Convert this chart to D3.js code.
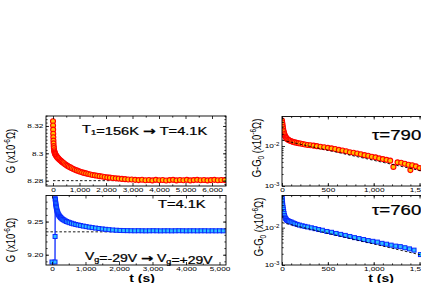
<!DOCTYPE html>
<html>
<head>
<meta charset="utf-8">
<script src="https://cdn.jsdelivr.net/npm/d3@7"></script>
<style>
  body { margin: 0; background: #fff; }
  svg { display: block; }
</style>
</head>
<body>
<svg id="chart" width="421" height="283"></svg>
<script>
// ---- data ----
const topLeftT = [0,3,6,9,12,16,20,26,33,42,52,63,75,90,108,128,150,175,200,230,260,295,330,370,410,455,500,550,600,655,710,770,830,895,960,1030,1100,1175,1250,1330,1410,1495,1580,1670,1760,1855,1950,2050,2150,2260,2370,2480,2600,2720,2840,2970,3100,3230,3360,3490,3620,3750,3880,4010,4140,4270,4400,4530,4660,4790,4920,5050,5180,5310,5440,5570,5700,5830,5960,6090,6220,6350,6480];
const topLeftG = [8.3235,8.3203,8.3173,8.3143,8.3118,8.3093,8.3073,8.3053,8.3038,8.3023,8.3013,8.3005,8.2998,8.2992,8.2986,8.298,8.2974,8.2968,8.2963,8.2957,8.2951,8.2945,8.2939,8.2933,8.2927,8.292,8.2914,8.2908,8.2902,8.2897,8.2891,8.2885,8.288,8.2875,8.287,8.2865,8.2861,8.2857,8.2853,8.2849,8.2845,8.2842,8.2839,8.2836,8.2833,8.283,8.2827,8.2824,8.2822,8.2819,8.2817,8.2815,8.2813,8.2811,8.2809,8.2808,8.2806,8.2804,8.2807,8.2803,8.2805,8.2802,8.2806,8.2803,8.2805,8.2801,8.2804,8.2806,8.2802,8.2805,8.2803,8.2806,8.2802,8.2804,8.2806,8.2803,8.2805,8.2802,8.2804,8.2806,8.2803,8.2805,8.2804];

const bottomLeftT = [0,90,92,96,100,104,108,113,118,124,131,139,148,158,170,183,198,215,234,255,278,303,330,360,395,435,480,530,585,645,710,780,855,935,1020,1110,1200,1300,1400,1500,1600,1700,1810,1920,2030,2140,2250,2360,2470,2580,2690,2800,2910,3020,3130,3240,3350,3460,3570,3680,3790,3900,4010,4120,4230,4340,4450,4560,4670,4780,4890,5000,5110];
const bottomLeftG = [9.189,9.189,9.2275,9.2845,9.283,9.281,9.279,9.277,9.275,9.273,9.271,9.269,9.267,9.265,9.2632,9.2616,9.2602,9.2588,9.2575,9.2563,9.2552,9.2541,9.2531,9.2521,9.2511,9.2501,9.2492,9.2483,9.2474,9.2465,9.2456,9.2448,9.244,9.2432,9.2424,9.2416,9.2409,9.2402,9.2395,9.2389,9.2383,9.2378,9.2373,9.2369,9.2366,9.2364,9.2363,9.2362,9.2361,9.2362,9.2361,9.236,9.2361,9.2362,9.2361,9.236,9.2361,9.2361,9.236,9.2361,9.2362,9.2361,9.236,9.2361,9.2361,9.236,9.2361,9.2361,9.236,9.2361,9.236,9.2361,9.236];

const topRightT = [0,3,6,9,12,16,20,25,30,36,43,50,60,70,82,95,110,125,140,160,180,200,225,250,280,310,345,380,420,460,500,540,580,620,660,700,740,780,820,860,900,940,980,1020,1060,1100,1140,1180,1215,1260,1300,1340,1380,1400,1420,1460,1500,1540,1580,1620];
const topRightDG = [0.043,0.038,0.034,0.030,0.027,0.024,0.022,0.020,0.0185,0.0172,0.0162,0.0155,0.0148,0.0142,0.0137,0.0133,0.0129,0.0126,0.0123,0.0120,0.0117,0.0115,0.0112,0.0109,0.0106,0.0104,0.0102,0.0099,0.0096,0.0093,0.0090,0.0087,0.0084,0.0080,0.0077,0.0074,0.0070,0.0068,0.0065,0.0062,0.0059,0.0057,0.0054,0.0052,0.0049,0.0047,0.0045,0.0043,0.0030,0.0039,0.0038,0.0036,0.0034,0.0025,0.0033,0.0031,0.0028,0.0027,0.0025,0.0024];

const bottomRightT = [0,2,4,6,8,11,14,18,22,27,33,40,48,58,70,85,100,120,140,165,190,220,250,280,320,360,400,440,490,540,590,640,690,740,790,840,890,940,990,1040,1090,1140,1190,1240,1290,1340,1390,1440,1510];
const bottomRightDG = [0.068,0.060,0.052,0.045,0.040,0.035,0.031,0.027,0.024,0.021,0.019,0.0175,0.0163,0.0155,0.0150,0.0145,0.0141,0.0134,0.0128,0.0122,0.0117,0.0112,0.0108,0.0104,0.0099,0.0094,0.0089,0.0085,0.0079,0.0075,0.0070,0.0066,0.0062,0.0058,0.0054,0.0051,0.0048,0.0045,0.0043,0.0041,0.0038,0.0036,0.0034,0.0032,0.0031,0.0029,0.0027,0.0025,0.0019];

// fits (dashed)
const topLeftFitT = [0, 6530];
const topLeftFitG = [8.2800, 8.2800];
const bottomLeftFitT = [-180, 5195];
const bottomLeftFitG = [9.2345, 9.2345];
const topRightFitT = [0, 1720];
const topRightFitDG = [0.0140, 0.0019];
const bottomRightFitT = [0, 1720];
const bottomRightFitDG = [0.0136, 0.00142];

// tick labels
const topLeftXTicks = [0, 1000, 2000, 3000, 4000, 5000, 6000];
const topLeftYTicks = [8.28, 8.30, 8.32];
const bottomLeftXTicks = [0, 1000, 2000, 3000, 4000, 5000];
const bottomLeftYTicks = [9.20, 9.25];
const rightXTicks = [0, 500, 1000, 1500];
const rightYTicks = [0.001, 0.01];

const svg = d3.select("#chart");
const sansFont = "'Liberation Sans', Arial, Helvetica, sans-serif";
const SX = 1.33; // the figure is stretched sideways

const red = "#ff0000", redFill = "#ffc000";
const blue = "#0a28ff", blueFill = "#2cc0ff";

function styleTicks(sel) {
  sel.select(".domain").remove();
  sel.selectAll(".tick line").attr("stroke", "#000").attr("stroke-width", 0.8);
  sel.selectAll(".tick text")
    .attr("font-family", sansFont)
    .attr("font-size", 6.2)
    .attr("fill", "#000")
    .attr("transform", `scale(${SX},1)`);
}

function drawPanel(p) {
  const g = svg.append("g");
  const x = d3.scaleLinear().domain(p.xDomain).range([p.left, p.right]);
  const y = (p.log ? d3.scaleLog() : d3.scaleLinear()).domain(p.yDomain).range([p.bottom, p.top]);

  const clipId = "clip" + p.id;
  svg.append("clipPath").attr("id", clipId)
    .append("rect")
    .attr("x", p.left).attr("y", p.top)
    .attr("width", p.right - p.left).attr("height", p.bottom - p.top);

  const plot = g.append("g").attr("clip-path", `url(#${clipId})`);

  const fit = d3.line().x(d => x(d[0])).y(d => y(d[1]));
  const fitPts = p.fitT.map((t, i) => [t, p.fitV[i]]);
  const pts = p.t.map((t, i) => [t, p.v[i]]);

  const drawFit = () => plot.append("path")
    .datum(fitPts)
    .attr("d", fit)
    .attr("fill", "none")
    .attr("stroke", "#000")
    .attr("stroke-width", 0.9)
    .attr("stroke-dasharray", "2.5,2");

  if (!p.fitOnTop) drawFit();

  if (p.line) {
    plot.append("path")
      .datum(pts)
      .attr("d", fit)
      .attr("fill", "none")
      .attr("stroke", p.color)
      .attr("stroke-width", 1.3);
  }

  if (p.marker === "circle") {
    plot.selectAll("circle.pt")
      .data(pts)
      .enter()
      .append("circle")
      .attr("class", "pt")
      .attr("cx", d => x(d[0]))
      .attr("cy", d => y(d[1]))
      .attr("r", 2.5)
      .attr("fill", redFill)
      .attr("stroke", red)
      .attr("stroke-width", 1.1);
  } else {
    plot.selectAll("rect.pt")
      .data(pts)
      .enter()
      .append("rect")
      .attr("class", "pt")
      .attr("x", d => x(d[0]) - 2)
      .attr("y", d => y(d[1]) - 2)
      .attr("width", 4)
      .attr("height", 4)
      .attr("fill", blueFill)
      .attr("stroke", blue)
      .attr("stroke-width", 1);
  }

  if (p.fitOnTop) drawFit();

  // axes: ticks point inward, mirrored on top and right
  const tl = 3, tm = 1.6;
  g.append("g").attr("transform", `translate(0,${p.bottom})`)
    .call(d3.axisBottom(x).tickValues(p.xMinor).tickSize(-tm).tickFormat(""))
    .call(styleTicks);
  g.append("g").attr("transform", `translate(0,${p.bottom})`)
    .call(d3.axisBottom(x).tickValues(p.xTicks).tickSize(-tl).tickPadding(1.5).tickFormat(d3.format(",")))
    .call(styleTicks);
  g.append("g").attr("transform", `translate(0,${p.top})`)
    .call(d3.axisTop(x).tickValues(p.xMinor).tickSize(-tm).tickFormat(""))
    .call(styleTicks);
  g.append("g").attr("transform", `translate(0,${p.top})`)
    .call(d3.axisTop(x).tickValues(p.xTicks).tickSize(-tl).tickFormat(""))
    .call(styleTicks);

  g.append("g").attr("transform", `translate(${p.left},0)`)
    .call(d3.axisLeft(y).tickValues(p.yMinor).tickSize(-tm).tickFormat(""))
    .call(styleTicks);
  const yAx = g.append("g").attr("transform", `translate(${p.left},0)`)
    .call(d3.axisLeft(y).tickValues(p.yTicks).tickSize(-tl).tickPadding(2)
      .tickFormat(p.log ? () => "10" : p.yFormat))
    .call(styleTicks);
  if (p.log) {
    yAx.selectAll(".tick text")
      .append("tspan")
      .attr("dy", -2.6)
      .attr("font-size", 4.6)
      .text(d => "-" + Math.abs(Math.round(Math.log10(d))));
  }
  g.append("g").attr("transform", `translate(${p.right},0)`)
    .call(d3.axisRight(y).tickValues(p.yMinor).tickSize(-tm).tickFormat(""))
    .call(styleTicks);
  g.append("g").attr("transform", `translate(${p.right},0)`)
    .call(d3.axisRight(y).tickValues(p.yTicks).tickSize(-tl).tickFormat(""))
    .call(styleTicks);

  g.append("rect")
    .attr("x", p.left).attr("y", p.top)
    .attr("width", p.right - p.left).attr("height", p.bottom - p.top)
    .attr("fill", "none")
    .attr("stroke", "#000")
    .attr("stroke-width", 0.9);

  // y title, rotated
  const yt = svg.append("text")
    .attr("transform", `translate(${p.titleX},${p.titleY}) scale(${SX},1) rotate(-90)`)
    .attr("text-anchor", "middle")
    .attr("font-family", sansFont)
    .attr("font-size", 9.5)
    .attr("fill", "#000");
  if (p.diff) {
    yt.append("tspan").text("G-G");
    yt.append("tspan").attr("dy", 2).attr("font-size", 6.5).text("0");
    yt.append("tspan").attr("dy", -2).text(" (x10");
  } else {
    yt.append("tspan").text("G (x10");
  }
  yt.append("tspan").attr("dy", -3.5).attr("font-size", 6.5).text("-6");
  yt.append("tspan").attr("dy", 3.5).text("Ω)");
}

function logMinor(domain) {
  const out = [];
  for (let e = -4; e <= 0; e++) {
    for (let m = 2; m <= 9; m++) {
      const v = m * Math.pow(10, e);
      if (v > domain[0] && v < domain[1]) out.push(v);
    }
  }
  return out;
}

const fmt2 = d => (+d.toFixed(2)).toString();

drawPanel({
  id: "tl", left: 46, right: 226, top: 116, bottom: 186,
  xDomain: [-264, 6528], yDomain: [8.2761, 8.3273],
  t: topLeftT, v: topLeftG, fitT: topLeftFitT, fitV: topLeftFitG,
  marker: "circle", color: red, line: true, fitOnTop: false,
  xTicks: topLeftXTicks, xMinor: d3.range(500, 6501, 1000),
  yTicks: topLeftYTicks, yMinor: d3.range(8.2775, 8.3275, 0.0025), yFormat: fmt2,
  titleX: 15, titleY: 151
});

drawPanel({
  id: "bl", left: 46, right: 226, top: 195.5, bottom: 265,
  xDomain: [-179, 5194], yDomain: [9.1845, 9.2893],
  t: bottomLeftT, v: bottomLeftG, fitT: bottomLeftFitT, fitV: bottomLeftFitG,
  marker: "square", color: blue, line: true, fitOnTop: false,
  xTicks: bottomLeftXTicks, xMinor: d3.range(500, 5001, 1000),
  yTicks: bottomLeftYTicks, yMinor: d3.range(9.19, 9.29, 0.01),
  yFormat: d => d.toFixed(2),
  titleX: 15, titleY: 240
});

const trDomain = [0.001, Math.pow(10, -1.2625)];
drawPanel({
  id: "tr", left: 282, right: 440, top: 116.5, bottom: 186,
  xDomain: [0, 1723], yDomain: trDomain, log: true, diff: true,
  t: topRightT, v: topRightDG, fitT: topRightFitT, fitV: topRightFitDG,
  marker: "circle", color: red, line: false, fitOnTop: true,
  xTicks: rightXTicks, xMinor: d3.range(100, 1701, 100),
  yTicks: rightYTicks, yMinor: logMinor(trDomain),
  titleX: 261, titleY: 148
});

const brDomain = [0.001, Math.pow(10, -1.14)];
drawPanel({
  id: "br", left: 282, right: 440, top: 195.5, bottom: 265,
  xDomain: [0, 1723], yDomain: brDomain, log: true, diff: true,
  t: bottomRightT, v: bottomRightDG, fitT: bottomRightFitT, fitV: bottomRightFitDG,
  marker: "square", color: blue, line: false, fitOnTop: true,
  xTicks: rightXTicks, xMinor: d3.range(100, 1701, 100),
  yTicks: rightYTicks, yMinor: logMinor(brDomain),
  titleX: 263, titleY: 227
});

// ---- annotations ----
function note(xp, yp, size, parts, weight, anchor) {
  const t = svg.append("text")
    .attr("transform", `translate(${xp},${yp}) scale(${SX},1)`)
    .attr("font-family", sansFont)
    .attr("font-size", size)
    .attr("font-weight", weight || "normal")
    .attr("text-anchor", anchor || "start")
    .attr("fill", "#000")
    .attr("stroke", "#000")
    .attr("stroke-width", weight ? 0 : 0.25);
  parts.forEach(([txt, kind]) => {
    if (kind === "sub") {
      t.append("tspan").attr("dy", 2).attr("font-size", size * 0.65).text(txt);
      t.append("tspan").attr("dy", -2).text("");
    } else if (kind === "arrow") {
      t.append("tspan")
        .attr("font-family", "'DejaVu Sans', sans-serif")
        .attr("font-weight", "bold")
        .attr("font-size", size * 1.05)
        .text(txt);
    } else {
      t.append("tspan").text(txt);
    }
  });
}

note(82, 132.5, 11, [["T"], ["1", "sub"], ["=156K "], ["→", "arrow"], [" T=4.1K"]]);
note(158, 207.5, 11, [["T=4.1K"]]);
note(85, 259.5, 10.5, [["V"], ["g", "sub"], ["=-29V "], ["→", "arrow"], [" V"], ["g", "sub"], ["=+29V"]]);
note(372, 140, 14, [["τ=790 s"]]);
note(372, 215, 14, [["τ=760 s"]]);
note(142, 281.5, 10.5, [["t (s)"]], "bold", "middle");
note(381, 282, 10.5, [["t (s)"]], "bold", "middle");
</script>
</body>
</html>
